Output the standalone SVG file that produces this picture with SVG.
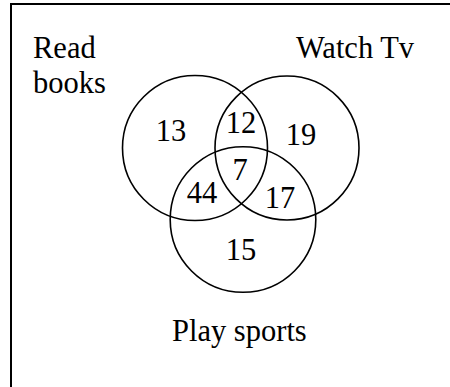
<svg xmlns="http://www.w3.org/2000/svg" width="450" height="387" viewBox="0 0 450 387">
<style>
  .frame{fill:none;stroke:#000;stroke-width:2}
  .set{fill:none;stroke:#000;stroke-width:1.6}
  text{font-family:"Liberation Serif","Times New Roman",serif;font-size:30.5px;fill:#000}
  .n{text-anchor:middle}
</style>
<rect width="450" height="387" fill="#fff"/>
<path class="frame" d="M11,387 V4 H450"/>
<g id="read-books">
  <circle class="set" cx="195" cy="148" r="72.5"/>
  <text x="33" y="58">Read</text>
  <text x="33" y="93">books</text>
</g>
<g id="watch-tv">
  <circle class="set" cx="287" cy="148" r="72"/>
  <text x="296" y="58">Watch Tv</text>
</g>
<g id="play-sports">
  <circle class="set" cx="243" cy="219.5" r="72.8"/>
  <text x="172" y="341">Play sports</text>
</g>
<g id="counts">
  <text class="n" x="171" y="141">13</text>
  <text class="n" x="241" y="133">12</text>
  <text class="n" x="301" y="145">19</text>
  <text class="n" x="240" y="180">7</text>
  <text class="n" x="202" y="203">44</text>
  <text class="n" x="280" y="208">17</text>
  <text class="n" x="241" y="260">15</text>
</g>
</svg>
